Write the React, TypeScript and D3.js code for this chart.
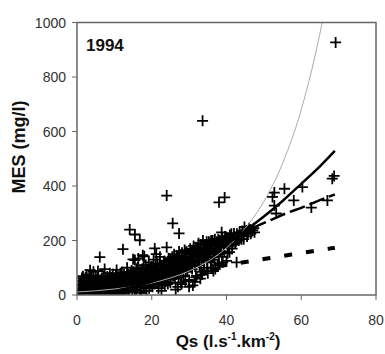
import React from "react";
import * as d3 from "d3";

const W = 385;
const H = 354;

const xTicks = [0, 20, 40, 60, 80];
const yTicks = [0, 200, 400, 600, 800, 1000];
const yearLabel = "1994";

// Observed points [Qs, MES]
const pointsLow: [number, number][] = [
  [0.5,10],[0.8,25],[1,5],[1.2,40],[1.5,15],[1.8,55],[2,8],[2.2,30],[2.5,20],[2.8,45],[3,12],[3.2,60],[3.5,91],[3.5,3],[3.8,35],[4,18],[4.2,50],[4.5,7],[4.8,28],[5,65],[1.6,69],[2.6,75],[4.4,85],[0.3,2],[1.4,0],[3.3,22],
  [0.6,35],[0.9,50],[1.1,18],[1.3,62],[1.7,28],[1.9,8],[2.1,48],[2.3,65],[2.4,2],[2.7,38],[2.9,58],[3.1,30],[3.4,45],[3.6,15],[3.9,70],[4.1,40],[4.3,25],[4.6,55],[4.7,12],[4.9,42],
  [5.2,15],[5.5,40],[5.8,5],[6,25],[6.1,139],[6.3,55],[6.5,10],[6.8,35],[7,70],[7.2,18],[7.5,48],[7.8,3],[8,28],[8.2,60],[8.5,12],[8.8,80],[9,38],[9.2,20],[9.5,52],[9.6,77],[9.8,8],[10,30],[5.6,88],[7.4,95],[8.6,4],
  [5.1,30],[5.3,58],[5.4,22],[5.7,68],[5.9,45],[6.2,12],[6.4,38],[6.6,62],[6.7,22],[6.9,50],[7.1,8],[7.3,32],[7.6,58],[7.7,15],[7.9,42],[8.1,68],[8.3,20],[8.4,45],[8.7,30],[8.9,55],[9.1,5],[9.3,65],[9.4,33],[9.7,42],[9.9,18]
];
const pointsMid: [number, number][] = [
  [10.2,45],[10.5,15],[10.8,62],[11,25],[11.2,5],[11.5,40],[11.8,70],[12,84],[12,18],[12.3,168],[12.5,50],[12.8,30],[13,10],[13.2,58],[13.5,36],[13.8,75],[14,22],[14.1,240],[14.3,48],[14.6,90],[14.8,12],[15,131],[15,60],[15.2,32],[10.6,92],[13.4,100],
  [10.1,58],[10.3,20],[10.4,72],[10.7,35],[10.9,50],[11.1,12],[11.3,55],[11.4,30],[11.6,80],[11.7,22],[11.9,45],[12.1,65],[12.2,8],[12.4,35],[12.6,75],[12.7,42],[12.9,20],[13.1,68],[13.3,45],[13.6,55],[13.7,15],[13.9,40],[14.2,65],[14.4,30],[14.5,78],[14.7,52],[14.9,38],
  [15.5,222],[15.5,128],[15.6,75],[15.8,20],[16,45],[16.2,100],[16.4,134],[16.5,65],[16.8,201],[16.8,30],[17,85],[17.3,55],[17.6,146],[17.8,110],[18,142],[18,40],[18.3,72],[18.6,15],[18.8,95],[19,60],[19.2,120],[19.5,35],[19.8,80],[20,50],[20,105],[17.2,8],[19.3,25],
  [15.1,85],[15.3,45],[15.4,18],[15.7,55],[15.9,95],[16.1,30],[16.3,70],[16.6,50],[16.7,85],[16.9,15],[17.1,62],[17.4,95],[17.5,40],[17.7,70],[17.9,25],[18.1,85],[18.2,55],[18.4,110],[18.5,35],[18.7,75],[18.9,45],[19.1,92],[19.4,70],[19.6,55],[19.7,100],[19.9,40]
];
const pointsBand: [number, number][] = [
  [20.3,70],[20.5,130],[20.8,171],[20.8,40],[21,90],[21.3,60],[21.5,115],[21.8,25],[22,80],[22.2,140],[22.5,55],[22.8,100],[23,70],[23.2,120],[23.5,35],[23.8,90],[24,175],[24,365],[24.2,60],[24.5,135],[24.8,105],[25,75],[25,45],[22.6,15],[21.2,150],
  [20.1,85],[20.2,30],[20.4,60],[20.6,95],[20.7,50],[20.9,75],[21.1,110],[21.4,45],[21.6,85],[21.7,65],[21.9,100],[22.1,50],[22.3,70],[22.4,110],[22.7,85],[22.9,45],[23.1,95],[23.3,60],[23.4,125],[23.6,80],[23.7,50],[23.9,110],[24.1,90],[24.3,40],[24.4,120],[24.6,75],[24.7,95],[24.9,130],
  [25.3,120],[25.6,263],[25.8,90],[26,150],[26.2,60],[26.5,110],[26.8,130],[27,80],[27.3,226],[27.3,160],[27.5,100],[27.8,45],[28,140],[28.2,120],[28.5,70],[28.8,165],[29,105],[29.2,135],[29.5,85],[29.8,150],[30,115],[30,30],[26.4,20],
  [25.1,60],[25.2,100],[25.4,85],[25.5,140],[25.7,70],[25.9,115],[26.1,95],[26.3,130],[26.6,75],[26.7,145],[26.9,105],[27.1,120],[27.2,65],[27.4,135],[27.6,115],[27.9,90],[28.1,155],[28.3,100],[28.4,130],[28.7,110],[28.9,140],[29.1,90],[29.3,160],[29.4,120],[29.6,100],[29.9,135],
  [27,30],[28,40],[29,50],[30,55],[31,35],[32,70],[33,60],[34,90],[35,80],[36,100],[37,95],[38,115],[39,120],[31.5,48],[33.5,75],[36.5,88],
  [30.3,170],[30.5,130],[30.8,95],[31,150],[31.2,180],[31.5,120],[31.8,65],[32,160],[32.3,140],[32.5,190],[32.8,110],[33,170],[33.2,85],[33.6,639],[33.7,200],[33.8,150],[34,130],[34.3,185],[34.6,160],[34.8,100],[35,175],[35,140],
  [30.1,140],[30.4,110],[30.6,155],[30.9,125],[31.1,165],[31.4,140],[31.6,105],[31.9,175],[32.1,130],[32.4,155],[32.6,120],[32.9,145],[33.1,185],[33.4,135],[33.9,165],[34.1,175],[34.4,145],[34.7,195],[34.9,125],
  [35.3,195],[35.6,160],[35.8,120],[36,180],[36.3,200],[36.5,150],[36.8,130],[37,190],[37.3,170],[37.6,110],[37.8,205],[38,340],[38,185],[38.3,160],[38.7,230],[38.8,140],[39,200],[39.3,175],[39.5,358],[39.6,215],[40,190],[40,125],
  [35.2,155],[35.4,180],[35.7,140],[35.9,200],[36.1,165],[36.4,140],[36.7,185],[36.9,205],[37.2,155],[37.4,195],[37.7,180],[37.9,150],[38.2,200],[38.5,175],[38.9,210],[39.2,185],[39.4,160],[39.8,205],
  [40.3,210],[40.3,153],[40.8,157],[41,200],[41.3,225],[41.6,185],[42,226],[42,212],[42.5,195],[42.7,120],[43,215],[43.5,230],[44,205],[44.5,220],[45.3,237],[45.5,215],[46,245],[46.5,225],[47,237],[47.5,230],[44.8,250],
  [40.5,180],[40.9,220],[41.2,195],[41.5,170],[41.9,210],[42.3,190],[42.8,225],[43.3,200],[43.8,220],[44.2,235],[44.6,205],[45.8,230],[46.3,240],[47.3,245]
];
const pointsHigh: [number, number][] = [
  [52.8,376],[52.8,328],[53.3,299],[55.5,390],[58,347],[60.3,396],[62.7,321],[67,347],[68.3,427],[68.8,437],[69.2,927],[52.3,360]
];

// Fitted curves [Qs, MES]
const solidCurve: [number, number][] = [[0,0],[5,3.5],[10,13],[15,29],[20,49],[25,76],[30,108],[35,146],[40,188],[45,236],[50,288],[55,345],[60,408],[65,472],[69,529]];
const longDashCurve: [number, number][] = [[0,0],[10,14],[20,52],[30,110],[40,186],[45,228],[48,252],[52,276],[56,300],[60,320],[65,348],[69,369]];
const dotCurve: [number, number][] = [[38,106],[40,110],[45,121],[50,132],[55,143],[60,154],[65,165],[69,173]];
const grayCurve: [number, number][] = [[0,11],[10,22],[20,44],[30,88],[35,123],[40,173],[45,245],[50,343],[55,483],[60,680],[65.6,1000],[67,1100]];

export default function App() {
  const x = d3.scaleLinear().domain([0, 80]).range([77, 376]);
  const y = d3.scaleLinear().domain([0, 1000]).range([295, 22.5]);
  const line = d3
    .line<[number, number]>()
    .x((d) => x(d[0]))
    .y((d) => y(d[1]))
    .curve(d3.curveMonotoneX);

  const font = "'Liberation Sans', Arial, sans-serif";
  const axisColor = "#666";
  const points = [...pointsLow, ...pointsMid, ...pointsBand, ...pointsHigh];

  return (
    <svg
      width={W}
      height={H}
      style={{ position: "absolute", left: 0, top: 0, background: "#fff" }}
      fontFamily={font}
    >
      <rect x={0} y={0} width={W} height={H} fill="#fff" />
      <defs>
        <clipPath id="plot">
          <rect x={x(0)} y={y(1000)} width={x(80) - x(0)} height={y(0) - y(1000)} />
        </clipPath>
      </defs>

      {/* y ticks */}
      {yTicks.map((t) => (
        <g key={"y" + t}>
          <line x1={x(0) - 5} x2={x(0)} y1={y(t)} y2={y(t)} stroke={axisColor} strokeWidth={1} />
          <text x={x(0) - 11} y={y(t) + 5} textAnchor="end" fontSize={14} fill="#333">
            {t}
          </text>
        </g>
      ))}
      {/* x ticks */}
      {xTicks.map((t) => (
        <g key={"x" + t}>
          <line x1={x(t)} x2={x(t)} y1={y(0)} y2={y(0) + 5} stroke={axisColor} strokeWidth={1} />
          <text x={x(t)} y={325} textAnchor="middle" fontSize={14} fill="#333">
            {t}
          </text>
        </g>
      ))}

      <g clipPath="url(#plot)">
        {points.map((p, i) => {
          const cx = x(p[0]);
          const cy = y(p[1]);
          return (
            <path
              key={i}
              d={`M${cx - 5.5},${cy}H${cx + 5.5}M${cx},${cy - 5.5}V${cy + 5.5}`}
              stroke="#000"
              strokeWidth={1.8}
              fill="none"
            />
          );
        })}
        <path d={line(grayCurve) || ""} fill="none" stroke="#aaa" strokeWidth={1} />
        <path d={line(solidCurve) || ""} fill="none" stroke="#000" strokeWidth={2.5} />
        <path
          d={line(longDashCurve) || ""}
          fill="none"
          stroke="#000"
          strokeWidth={2.5}
          strokeDasharray="16,5"
        />
        <path
          d={line(dotCurve) || ""}
          fill="none"
          stroke="#000"
          strokeWidth={4}
          strokeDasharray="8,14"
        />
      </g>

      {/* frame */}
      <rect
        x={x(0)}
        y={y(1000)}
        width={x(80) - x(0)}
        height={y(0) - y(1000)}
        fill="none"
        stroke={axisColor}
        strokeWidth={1.5}
      />

      <text x={86} y={51} fontSize={17} fontWeight="bold" fill="#111">
        {yearLabel}
      </text>

      <text
        transform={`translate(25,147) rotate(-90)`}
        textAnchor="middle"
        fontSize={18}
        fontWeight="bold"
        fill="#111"
      >
        MES (mg/l)
      </text>

      <text x={228} y={347} textAnchor="middle" fontSize={17} fontWeight="bold" fill="#111">
        Qs (l.s
        <tspan dy={-7} fontSize={10}>-1</tspan>
        <tspan dy={7}>.km</tspan>
        <tspan dy={-7} fontSize={10}>-2</tspan>
        <tspan dy={7}>)</tspan>
      </text>
    </svg>
  );
}
